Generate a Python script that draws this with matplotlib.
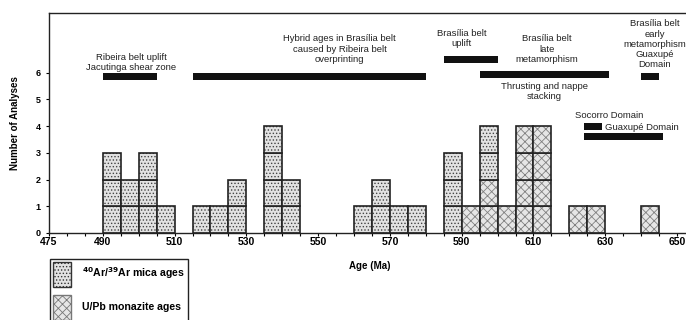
import matplotlib
matplotlib.use("Agg")
import matplotlib.pyplot as plt
from matplotlib.patches import Patch

plt.rcParams['font.family'] = ['Liberation Sans', 'DejaVu Sans']
plt.rcParams['hatch.linewidth'] = 0.6

# histogram bins (left edge, 5 Ma wide)
bin_starts = [490, 495, 500, 505, 515, 520, 525, 535, 540, 560, 565, 570, 575,
              585, 590, 595, 600, 605, 610, 620, 625, 640]
ar_counts = [3, 2, 3, 1, 1, 1, 2, 4, 2, 1, 2, 1, 1,
             3, 0, 2, 0, 0, 0, 0, 0, 0]
mz_counts = [0, 0, 0, 0, 0, 0, 0, 0, 0, 0, 0, 0, 0,
             0, 1, 2, 1, 4, 4, 1, 1, 1]
bin_width = 5

# event bars: start, end, level
event_start = [490, 515, 585, 595, 640, 624, 624]
event_end = [505, 580, 600, 631, 645, 629, 646]
event_level = [5.84, 5.84, 6.48, 5.93, 5.85, 3.97, 3.6]

fig = plt.figure(figsize=(6.86, 3.2), dpi=100)
ax = fig.add_axes([49 / 686, 1 - 233 / 320, 1 - 49 / 686, 220 / 320])

ar_face = '#e2e2e2'
mz_face = '#e6e6e6'


def draw_box(x, y, hatch, hcol, face):
    ax.bar(x, 1, bottom=y, width=bin_width, align='edge', color=face,
           hatch=hatch, edgecolor=hcol, linewidth=0)
    ax.bar(x, 1, bottom=y, width=bin_width, align='edge', fill=False,
           edgecolor='#222222', linewidth=1.2)


for x, na, nm in zip(bin_starts, ar_counts, mz_counts):
    for k in range(nm):
        draw_box(x, k, 'xxxx', '#808080', mz_face)
    for k in range(na):
        draw_box(x, nm + k, '.....', '#444444', ar_face)

ax.barh(event_level, [e - s for s, e in zip(event_start, event_end)],
        left=event_start, height=0.26, color='#111111')

txt = dict(fontsize=6.8, color='#222222', linespacing=1.18, va='center')
ax.text(498, 6.38, 'Ribeira belt uplift\nJacutinga shear zone', ha='center', **txt)
ax.text(556, 6.88, 'Hybrid ages in Brasília belt\ncaused by Ribeira belt\noverprinting',
        ha='center', **txt)
ax.text(590, 7.28, 'Brasília belt\nuplift', ha='center', **txt)
ax.text(613.7, 6.88, 'Brasília belt\nlate\nmetamorphism', ha='center', **txt)
ax.text(613, 5.30, 'Thrusting and nappe\nstacking', ha='center', **txt)
ax.text(643.8, 7.06, 'Brasília belt\nearly\nmetamorphism\nGuaxupé\nDomain',
        ha='center', **txt)
ax.text(621.5, 4.38, 'Socorro Domain', ha='left', **txt)
ax.text(629.8, 3.93, 'Guaxupé Domain', ha='left', **txt)

ax.set_xlim(475, 652.5)
ax.set_ylim(0, 8.23)
ax.set_xticks([475, 490, 510, 530, 550, 570, 590, 610, 630, 650])
ax.set_xticks(range(475, 655, 5), minor=True)
ax.set_yticks(range(0, 7))
ax.tick_params(axis='x', length=2, width=0.8, labelsize=7.5, pad=1)
ax.tick_params(axis='x', which='minor', length=2, width=0.8)
ax.tick_params(axis='y', length=2, width=0.8, labelsize=6.5, pad=4)
for lab in ax.get_xticklabels() + ax.get_yticklabels():
    lab.set_fontweight('bold')
ax.spines['right'].set_visible(False)
for s in ['left', 'bottom', 'top']:
    ax.spines[s].set_linewidth(1.0)
    ax.spines[s].set_color('#222222')

ax.set_ylabel('Number of Analyses', fontsize=7, fontweight='bold', labelpad=11)
fig.text(370 / 686, 1 - 266 / 320, 'Age (Ma)', fontsize=7, fontweight='bold',
         ha='center', va='center')

handles = [Patch(facecolor=ar_face, edgecolor='#333333', hatch='.....'),
           Patch(facecolor=mz_face, edgecolor='#777777', hatch='xxxx')]
labels = [r'$^{\mathbf{40}}$Ar/$^{\mathbf{39}}$Ar mica ages', 'U/Pb monazite ages']
leg = fig.legend(handles, labels, loc='upper left',
                 bbox_to_anchor=(50 / 686, 1 - 259 / 320),
                 prop={'size': 7.6, 'weight': 'bold'}, handlelength=1.65,
                 handleheight=3.2, handletextpad=1.05, labelspacing=0.8,
                 borderpad=0.3, borderaxespad=0, fancybox=False,
                 edgecolor='#222222', framealpha=1)
leg.get_frame().set_linewidth(1.0)

fig.savefig('out.png', dpi=100)
